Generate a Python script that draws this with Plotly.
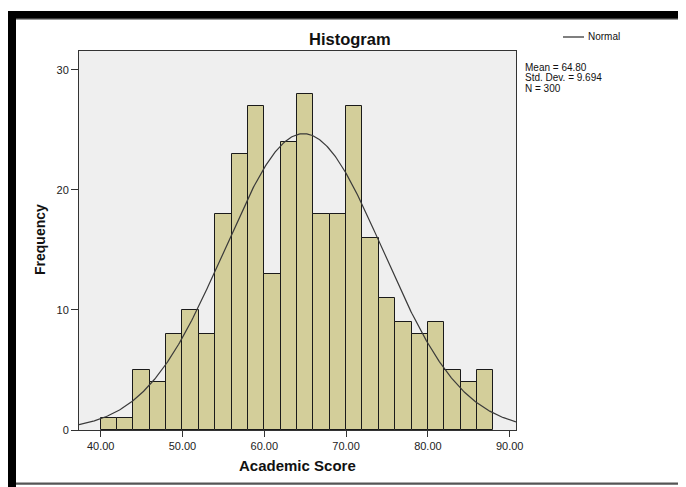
import numpy as np
import plotly.graph_objects as go

# ---- data ----
bin_starts = [40, 42, 44, 46, 48, 50, 52, 54, 56, 58, 60, 62, 64, 66, 68, 70,
              72, 74, 76, 78, 80, 82, 84, 86]
counts = [1, 1, 5, 4, 8, 10, 8, 18, 23, 27, 13, 24, 28, 18, 18, 27,
          16, 11, 9, 8, 9, 5, 4, 5]
bin_width = 2
mean_val = 64.80
std_val = 9.694
n_val = 300
x_ticks = [40, 50, 60, 70, 80, 90]
x_tick_labels = ["40.00", "50.00", "60.00", "70.00", "80.00", "90.00"]
y_ticks = [0, 10, 20, 30]
stats_lines = ["Mean = 64.80", "Std. Dev. = 9.694", "N = 300"]

# ---- layout geometry (reference pixels; page body has an 8px margin) ----
OFF = 8
W, H = 686 - OFF, 487 - OFF
PL, PR, PT, PB = 79, 516, 51, 430
x_range = [37.35, 90.77]
y_range = [0, 31.58]

def px(x):
    return (x - PL) / (PR - PL)

def py(y):
    return (PB - y) / (PB - PT)

centers = [s + bin_width / 2 for s in bin_starts]

# Fitted normal curve from the reported mean / sd / N
xc = np.linspace(x_range[0], x_range[1], 400)
yc = n_val * bin_width / (std_val * np.sqrt(2 * np.pi)) * np.exp(-0.5 * ((xc - mean_val) / std_val) ** 2)

fig = go.Figure()
fig.add_trace(go.Bar(
    x=centers, y=counts, width=bin_width,
    marker=dict(color="#D3CE9A", line=dict(color="#1a1a1a", width=1)),
    showlegend=False, hoverinfo="x+y",
))
fig.add_trace(go.Scatter(
    x=xc, y=yc, mode="lines", line=dict(color="#3a3a3a", width=1.2),
    name="Normal", showlegend=False, hoverinfo="skip",
))

font_family = "Liberation Sans, Arial, sans-serif"

fig.update_layout(
    width=W, height=H,
    margin=dict(l=PL - OFF, r=(686 - OFF) - (PR - OFF), t=PT - OFF, b=(487 - OFF) - (PB - OFF), pad=0),
    paper_bgcolor="white",
    plot_bgcolor="#EFEFEF",
    font=dict(family=font_family, size=11, color="#222"),
    xaxis=dict(
        range=x_range, tickvals=x_ticks, ticktext=x_tick_labels,
        showgrid=False, zeroline=False,
        showline=True, linecolor="#333", linewidth=1, mirror=True,
        ticks="outside", ticklen=6, tickcolor="#333", tickwidth=1,
        tickfont=dict(size=11, color="#222"),
    ),
    yaxis=dict(
        range=y_range, tickvals=y_ticks,
        showgrid=False, zeroline=False,
        showline=True, linecolor="#333", linewidth=1, mirror=True,
        ticks="outside", ticklen=7, tickcolor="#333", tickwidth=1,
        tickfont=dict(size=11, color="#222"),
    ),
    bargap=0,
)

ann = []
ann.append(dict(text="<b>Histogram</b>", x=px(349.5), y=py(39.5), xref="paper", yref="paper",
                showarrow=False, xanchor="center", yanchor="middle",
                font=dict(size=16.5, color="#111", family=font_family)))
ann.append(dict(text="<b>Academic Score</b>", x=px(297), y=py(465), xref="paper", yref="paper",
                showarrow=False, xanchor="center", yanchor="middle",
                font=dict(size=15, color="#111", family=font_family)))
ann.append(dict(text="<b>Frequency</b>", x=px(40), y=py(240), xref="paper", yref="paper",
                showarrow=False, xanchor="center", yanchor="middle", textangle=-90,
                font=dict(size=14, color="#111", family=font_family)))
ann.append(dict(text="Normal", x=px(586), y=py(37), xref="paper", yref="paper",
                showarrow=False, xanchor="left", yanchor="middle",
                font=dict(size=10, color="#111", family=font_family)))
for i, line in enumerate(stats_lines):
    ann.append(dict(text=line, x=px(523), y=py(67.5 + 10.3 * i), xref="paper", yref="paper",
                    showarrow=False, xanchor="left", yanchor="middle",
                    font=dict(size=10, color="#111", family=font_family)))
fig.update_layout(annotations=ann)

shapes = []
# legend line sample
shapes.append(dict(type="line", xref="paper", yref="paper",
                   x0=px(563), x1=px(584), y0=py(37), y1=py(37),
                   line=dict(color="#555", width=1.5)))
# outer black frame
def rect(x0, y0, x1, y1, color):
    return dict(type="rect", xref="paper", yref="paper",
                x0=px(x0), x1=px(x1), y0=py(y0), y1=py(y1),
                fillcolor=color, line=dict(width=0), layer="above")
shapes.append(rect(8, 11, 686, 19, "black"))
shapes.append(rect(16, 18.5, 683, 19.8, "#777"))
shapes.append(rect(8, 11, 16, 487, "black"))
shapes.append(rect(683, 11, 686, 484, "black"))
shapes.append(rect(16, 482.5, 686, 484.8, "#555"))
fig.update_layout(shapes=shapes)

fig.write_html("out.html")
